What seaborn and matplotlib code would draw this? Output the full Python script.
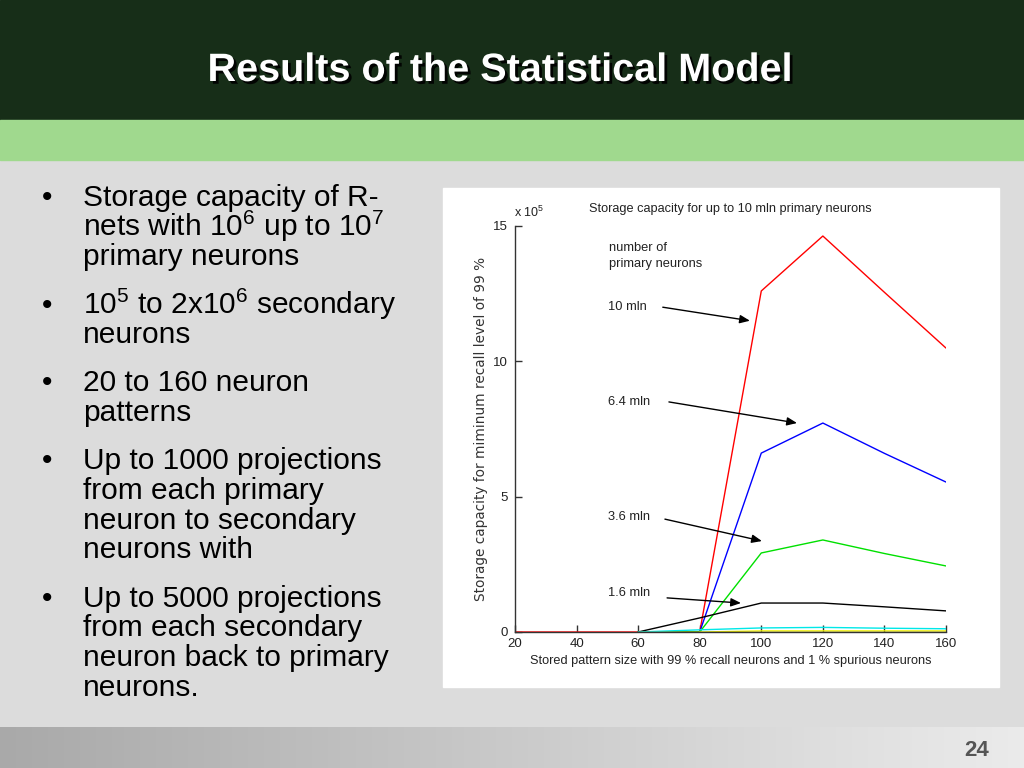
import matplotlib
matplotlib.use("Agg")
import matplotlib.pyplot as plt
import matplotlib.patheffects as pe
from matplotlib.patches import Rectangle
import numpy as np
import pandas as pd
import seaborn as sns

# stored pattern size (x axis)
pattern_size = [20, 40, 60, 80, 100, 120, 140, 160]

# storage capacity (x 10^5), one list per number of primary neurons
# nan = line not drawn there in the original
cap_10mln = [0, 0, 0, 0, 12.6, 14.63, 12.55, 10.49]
cap_6_4mln = [np.nan, np.nan, np.nan, 0, 6.61, 7.72, 6.6, 5.54]
cap_3_6mln = [np.nan, np.nan, 0, 0, 2.92, 3.40, 2.9, 2.44]
cap_1_6mln = [np.nan, np.nan, 0, 0.52, 1.07, 1.07, 0.93, 0.78]
cap_cyan = [np.nan, np.nan, 0, 0.08, 0.15, 0.17, 0.14, 0.12]
cap_yellow = [np.nan, np.nan, np.nan, 0, 0.04, 0.04, 0.04, 0.04]
cap_olive = [np.nan, np.nan, np.nan, 0, 0, 0, 0, 0]
cap_orange = [np.nan, np.nan, 0, 0, np.nan, np.nan, np.nan, np.nan]

series_names = ["10 mln", "6.4 mln", "3.6 mln", "1.6 mln", "s5", "s6", "s7", "s8"]
series_values = [cap_10mln, cap_6_4mln, cap_3_6mln, cap_1_6mln,
                 cap_cyan, cap_yellow, cap_olive, cap_orange]
series_colors = ["#ff0000", "#0000ff", "#00e000", "#000000",
                 "#00e8e8", "#f0f000", "#6b5a1e", "#ff8c00"]

bullets = [
    ["Storage capacity of R-", r"nets with 10$^6$ up to 10$^7$", "primary neurons"],
    [r"10$^5$ to 2x10$^6$ secondary", "neurons"],
    ["20 to 160 neuron", "patterns"],
    ["Up to 1000 projections", "from each primary", "neuron to secondary", "neurons with"],
    ["Up to 5000 projections", "from each secondary", "neuron back to primary", "neurons."],
]

sns.set_style("white")
plt.rcParams["font.family"] = ["Liberation Sans", "DejaVu Sans"]
plt.rcParams["mathtext.default"] = "regular"

fig = plt.figure(figsize=(10.24, 7.68), dpi=100)
fig.patch.set_facecolor("#dcdcdc")

# slide background in pixel coordinates
bg = fig.add_axes([0, 0, 1, 1])
bg.axis("off")
bg.add_patch(Rectangle((0, 0), 1024, 120, color="#172e18", zorder=0))
bg.add_patch(Rectangle((0, 120), 1024, 40, color="#a0d98e", zorder=0))
grad = np.linspace(0, 1, 256)[None, :]
bg.imshow(grad, extent=(0, 1024, 768, 727), aspect="auto",
          cmap=matplotlib.colors.LinearSegmentedColormap.from_list("g", ["#a9a9a9", "#ebebeb"]),
          zorder=0)
bg.set_xlim(0, 1024)
bg.set_ylim(768, 0)
bg.add_patch(Rectangle((443, 188), 556, 499, color="white", zorder=1))

bg.text(500, 81, "Results of the Statistical Model", ha="center", va="baseline",
        fontsize=28.5, fontweight="bold", color="white",
        path_effects=[pe.withSimplePatchShadow(offset=(2, -2), shadow_rgbFace="black", alpha=0.9)])
bg.text(977, 756, "24", ha="center", va="baseline", fontsize=16,
        fontweight="bold", color="#555555")

# bullet list
y = 206
for lines in bullets:
    bg.text(47, y, "\u2022", ha="center", va="baseline", fontsize=21.5, color="black")
    for line in lines:
        bg.text(83, y, line, ha="left", va="baseline", fontsize=21.5, color="black")
        y += 29.7
    y += 18.5

# chart
ax = fig.add_axes([515 / 1024, 1 - 632 / 768, 431 / 1024, 406 / 768])
ax.set_facecolor("white")

frames = []
for name, vals in zip(series_names, series_values):
    frames.append(pd.DataFrame({"size": pattern_size, "capacity": vals, "neurons": name}))
df = pd.concat(frames).dropna()

sns.lineplot(data=df, x="size", y="capacity", hue="neurons", hue_order=series_names,
             palette=dict(zip(series_names, series_colors)), estimator=None,
             linewidth=1.0, legend=False, ax=ax)

ax.set_xlim(20, 160)
ax.set_ylim(0, 15)
ax.set_xticks(range(20, 161, 20))
ax.set_yticks([0, 5, 10, 15])
for s in ["top", "right"]:
    ax.spines[s].set_visible(False)
for s in ["left", "bottom"]:
    ax.spines[s].set_color("#333333")
    ax.spines[s].set_linewidth(1.0)
ax.tick_params(direction="in", length=5, width=1, color="#333333",
               labelsize=9.5, labelcolor="#222222", left=True, bottom=True)
ax.tick_params(axis="x", pad=4)
ax.tick_params(axis="y", pad=5)

ax.set_title("Storage capacity for up to 10 mln primary neurons", fontsize=9.2,
             color="#222222", pad=10)
ax.set_xlabel("Stored pattern size with 99 % recall neurons and 1 % spurious neurons",
              fontsize=9.2, color="#222222", labelpad=4)
ax.set_ylabel("Storage capacity for miminum recall level of 99 %", fontsize=9.8,
              family=["DejaVu Sans"], color="#333333")
ax.yaxis.set_label_coords(-0.063, 0.5)
ax.text(-0.003, 1.022, r"x 10$^5$", transform=ax.transAxes, ha="left", va="baseline",
        fontsize=9, color="#222222")

# labels and arrows for the curves
ax.text(50.5, 13.9, "number of\nprimary neurons", fontsize=9.3,
        color="#222222", va="center", linespacing=1.5)
labels = [("10 mln", 12.0, (68, 12.0), (96.3, 11.5)),
          ("6.4 mln", 8.5, (70, 8.5), (111.6, 7.72)),
          ("3.6 mln", 4.25, (68.7, 4.17), (100.2, 3.36)),
          ("1.6 mln", 1.45, (69.4, 1.26), (93.4, 1.07))]
for txt, ty, tail, head in labels:
    ax.text(50.2, ty, txt, fontsize=9.3, color="#222222", va="center")
    ax.annotate("", xy=head, xytext=tail,
                arrowprops=dict(arrowstyle="-|>,head_length=0.6,head_width=0.25",
                                color="black", lw=1.0, shrinkA=0, shrinkB=0))

fig.savefig("out.png", dpi=100, facecolor=fig.get_facecolor())
